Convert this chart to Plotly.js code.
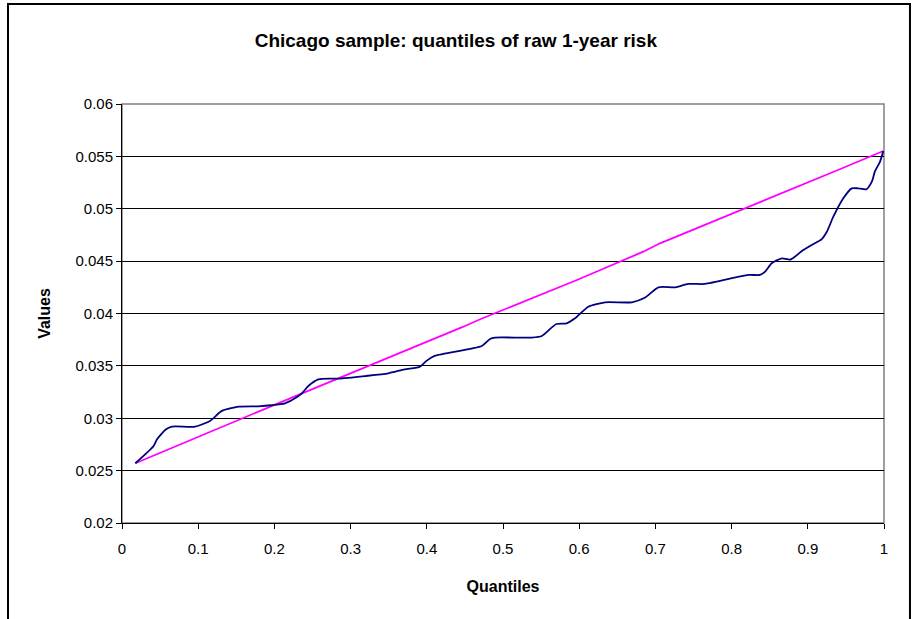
<!DOCTYPE html>
<html>
<head>
<meta charset="utf-8">
<script src="https://cdn.plot.ly/plotly-3.0.1.min.js"></script>
<style>html,body{margin:0;padding:0;background:#fff;}#chart{width:919px;height:619px;}</style>
</head>
<body>
<div id="chart"></div>
<script>
// Observed quantiles (navy, smoothed line)
const obsX = [0.0175, 0.0415, 0.046, 0.057, 0.0656, 0.096, 0.116, 0.131, 0.153, 0.179, 0.196, 0.214, 0.227, 0.236, 0.2445, 0.2577, 0.284, 0.319, 0.3495, 0.371, 0.391, 0.400, 0.411, 0.472, 0.483, 0.4895, 0.5377, 0.551, 0.570, 0.5836, 0.5945, 0.612, 0.634, 0.669, 0.686, 0.704, 0.726, 0.743, 0.765, 0.822, 0.837, 0.844, 0.8526, 0.866, 0.877, 0.894, 0.905, 0.918, 0.925, 0.9335, 0.9466, 0.9576, 0.966, 0.977, 0.984, 0.988, 0.9948, 0.999];
const obsY = [0.0257, 0.02735, 0.0280, 0.0289, 0.0292, 0.0292, 0.02977, 0.0307, 0.0311, 0.03114, 0.03124, 0.03143, 0.0319, 0.03238, 0.03308, 0.03372, 0.03378, 0.03403, 0.03429, 0.03467, 0.03492, 0.0355, 0.03597, 0.0369, 0.03757, 0.0377, 0.0377, 0.03785, 0.0390, 0.03906, 0.03954, 0.04065, 0.04107, 0.04107, 0.0415, 0.0425, 0.0425, 0.04282, 0.04282, 0.04368, 0.04368, 0.0440, 0.0448, 0.04527, 0.04514, 0.04606, 0.04654, 0.04708, 0.0478, 0.04924, 0.0510, 0.05195, 0.05195, 0.05186, 0.05258, 0.05354, 0.0545, 0.05551];

// Reference quantiles (magenta)
const refX = [0.0175, 0.2205, 0.448, 0.470, 0.597, 0.684, 0.706, 0.920, 0.942, 0.999];
const refY = [0.0257, 0.0319, 0.03874, 0.03945, 0.0432, 0.0459, 0.0467, 0.05306, 0.05377, 0.05551];

const yTicks = [0.02, 0.025, 0.03, 0.035, 0.04, 0.045, 0.05, 0.055, 0.06];
const yTickText = ["0.02", "0.025", "0.03", "0.035", "0.04", "0.045", "0.05", "0.055", "0.06"];
const xTicks = [0, 0.1, 0.2, 0.3, 0.4, 0.5, 0.6, 0.7, 0.8, 0.9, 1];
const xTickText = ["0", "0.1", "0.2", "0.3", "0.4", "0.5", "0.6", "0.7", "0.8", "0.9", "1"];

const FONT = "Arial, 'Liberation Sans', sans-serif";

const traces = [
  {x: refX, y: refY, type: 'scatter', mode: 'lines', line: {color: '#FF00FF', width: 1.8}, hoverinfo: 'skip', showlegend: false},
  {x: obsX, y: obsY, type: 'scatter', mode: 'lines', line: {color: '#000080', width: 1.8, shape: 'spline', smoothing: 0.6}, hoverinfo: 'skip', showlegend: false}
];

const layout = {
  width: 919, height: 619,
  paper_bgcolor: '#ffffff', plot_bgcolor: '#ffffff',
  margin: {l: 122, r: 35, t: 104, b: 96},
  font: {family: FONT, color: '#000', size: 15},
  title: {text: '<b>Chicago sample: quantiles of raw 1-year risk</b>', font: {family: FONT, size: 19, color: '#000'}, x: 0.496, xanchor: 'center', y: 0.935, yanchor: 'middle'},
  xaxis: {
    range: [0, 1], tickvals: xTicks, ticktext: xTickText,
    showgrid: false, zeroline: false,
    showline: true, linecolor: '#000', linewidth: 1,
    ticks: 'outside', ticklen: 5, tickcolor: '#000', tickwidth: 1,
    ticklabelstandoff: 7,
    tickfont: {family: FONT, size: 15, color: '#000'},
    title: {text: '<b>Quantiles</b>', font: {family: FONT, size: 16, color: '#000'}, standoff: 24},
    automargin: false, fixedrange: true
  },
  yaxis: {
    range: [0.02, 0.06], tickvals: yTicks, ticktext: yTickText,
    showgrid: true, gridcolor: '#000', gridwidth: 1, zeroline: false,
    showline: true, linecolor: '#000', linewidth: 1,
    ticks: 'outside', ticklen: 5, tickcolor: '#000', tickwidth: 1,
    tickfont: {family: FONT, size: 15, color: '#000'},
    title: {text: '<b>Values</b>', font: {family: FONT, size: 16, color: '#000'}, standoff: 20},
    automargin: false, fixedrange: true
  },
  shapes: [
    {type: 'rect', xref: 'paper', yref: 'paper', x0: 0, x1: 1, y0: 0, y1: 1, line: {color: '#808080', width: 1.5}, layer: 'below'},
    {type: 'rect', xref: 'paper', yref: 'paper', x0: -0.1496, x1: 1.0341, y0: -0.35, y1: 1.2387, line: {color: '#000', width: 2}, layer: 'below'}
  ]
};

Plotly.newPlot('chart', traces, layout, {staticPlot: true, displayModeBar: false});
</script>
</body>
</html>
